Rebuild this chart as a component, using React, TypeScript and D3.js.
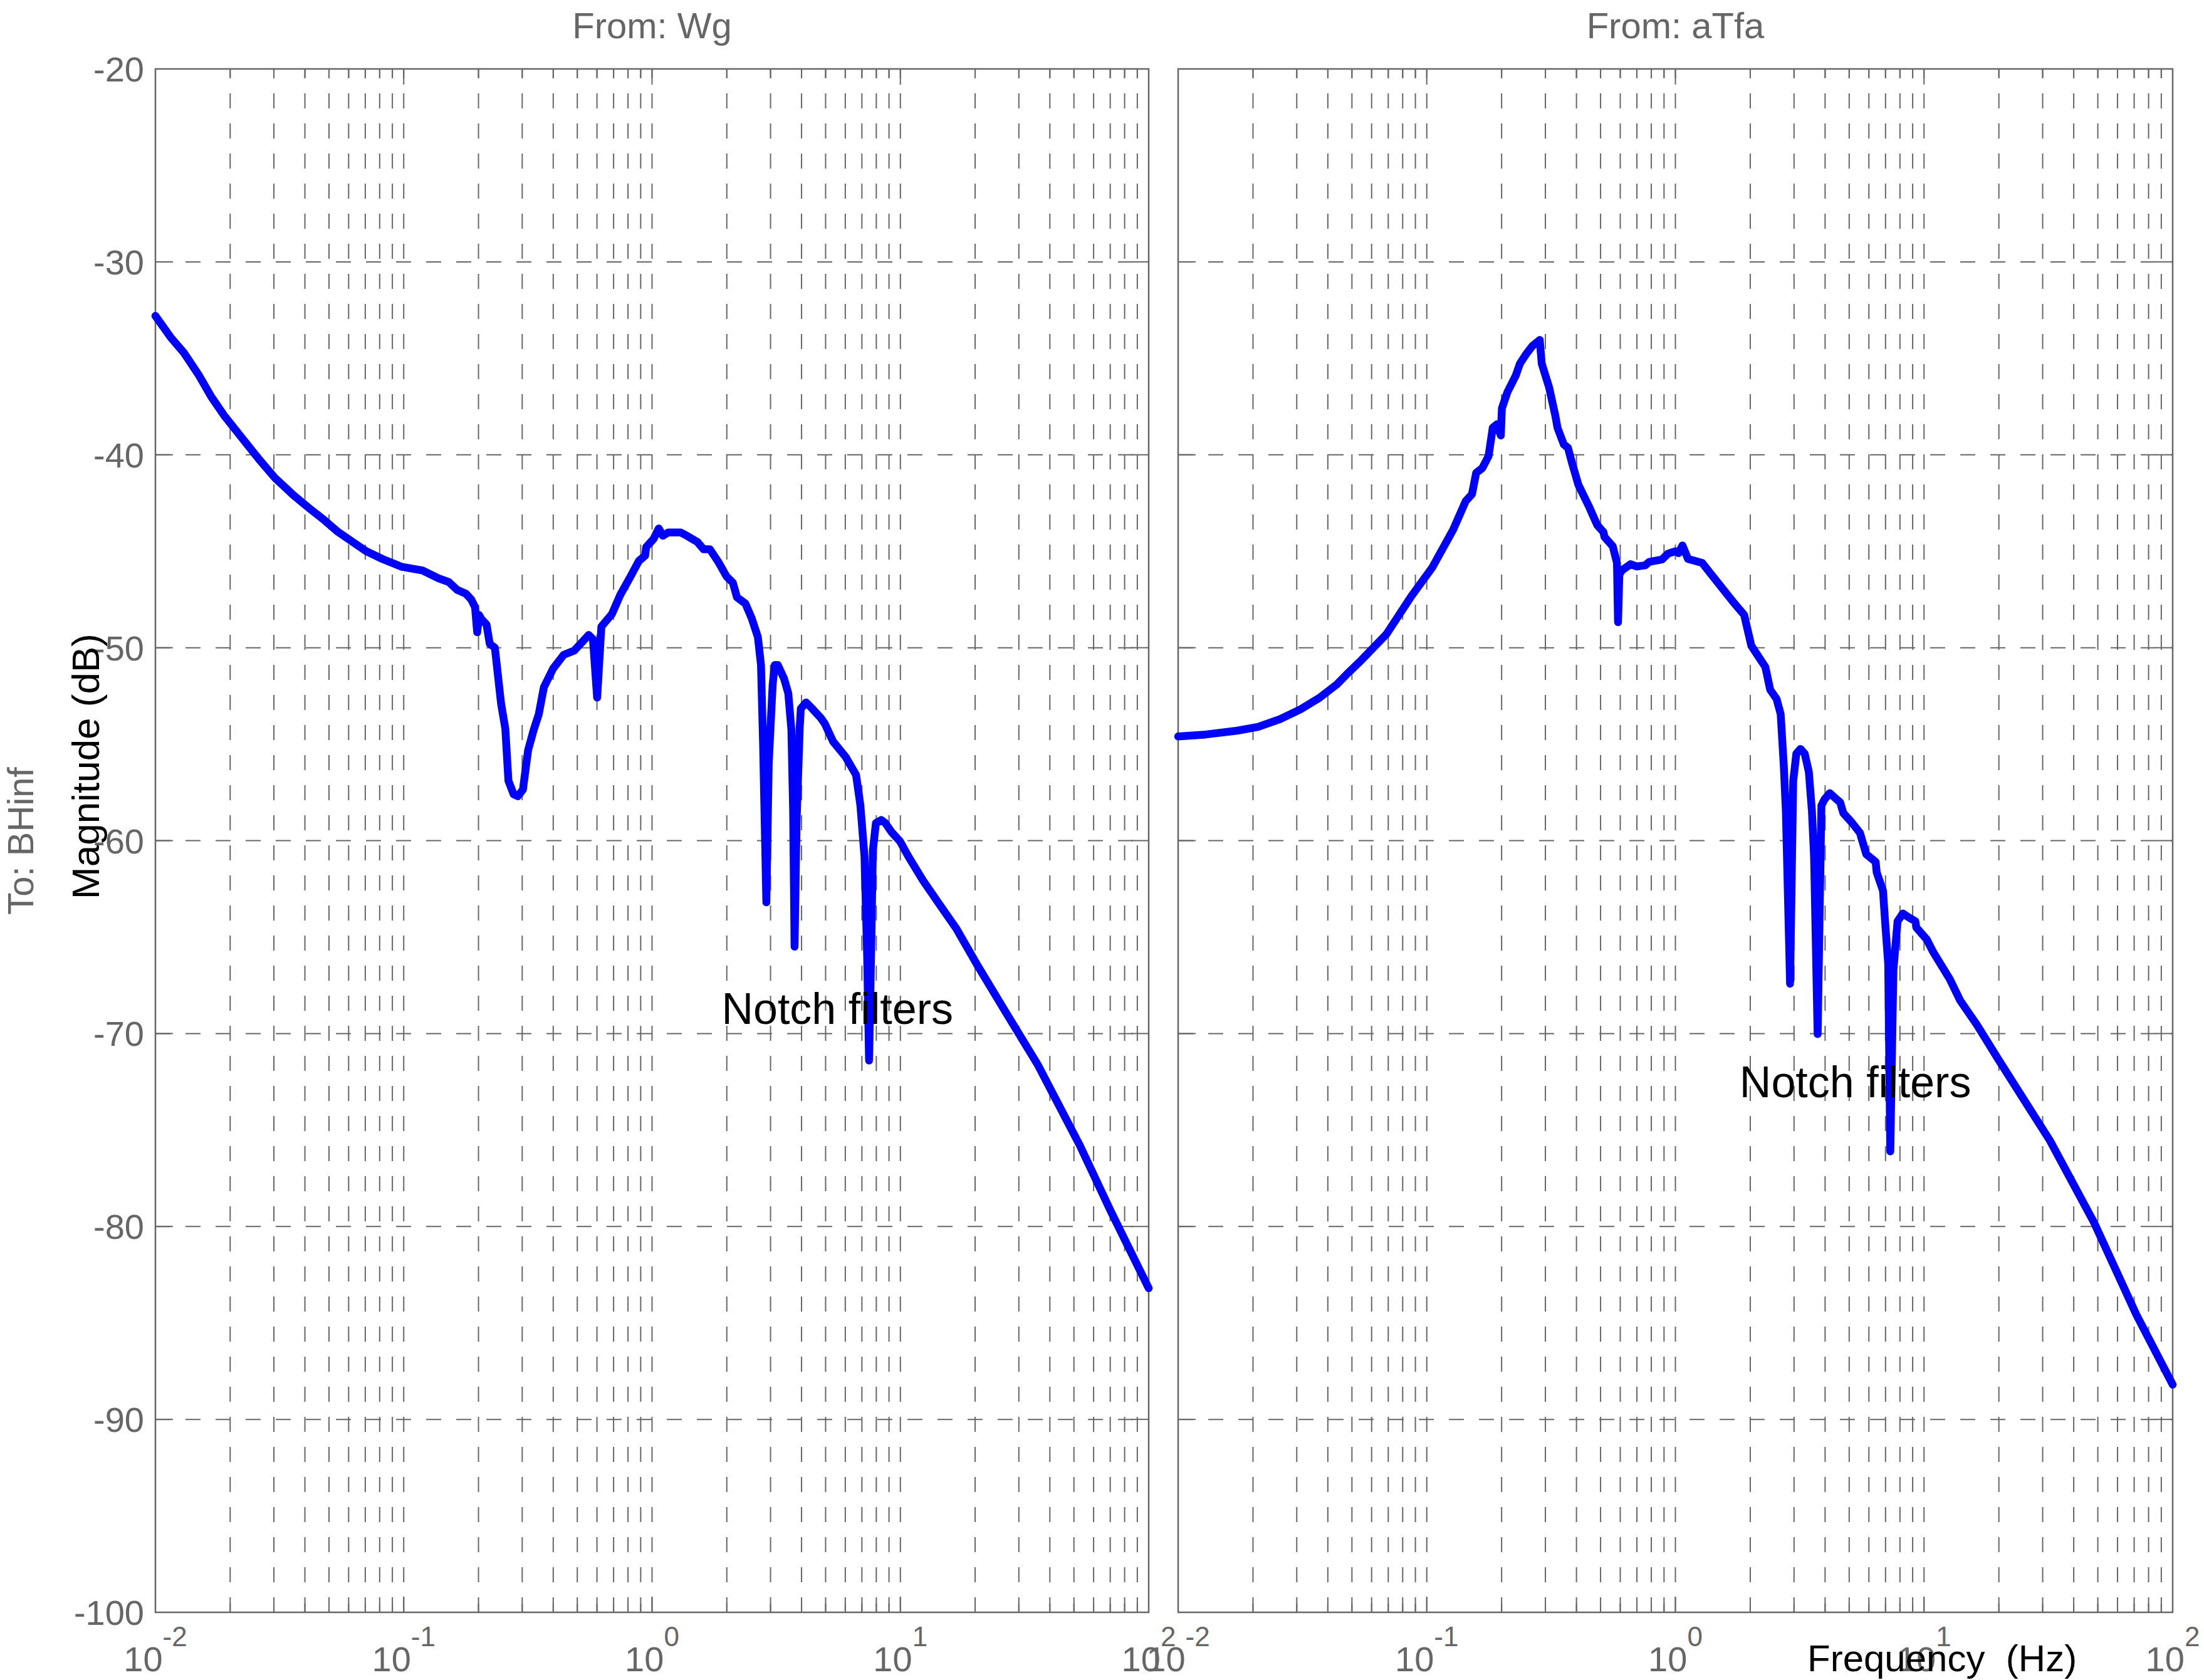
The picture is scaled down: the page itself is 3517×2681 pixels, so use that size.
import React from "react";
import * as d3 from "d3";

// magnitude response, From: Wg  (Hz, dB)
const wgFreq = [
  0.01, 0.0115, 0.013, 0.015, 0.0168, 0.019, 0.0219, 0.026, 0.0303, 0.036,
  0.0419, 0.048, 0.0544, 0.062, 0.0706, 0.082, 0.0977, 0.119, 0.138, 0.152,
  0.164, 0.178, 0.187, 0.1937, 0.1976, 0.201, 0.205, 0.2155, 0.222, 0.2328,
  0.2466, 0.2565, 0.264, 0.277, 0.288, 0.302, 0.317, 0.333, 0.3497, 0.3667,
  0.4, 0.4406, 0.4858, 0.556, 0.578, 0.601, 0.625, 0.689, 0.7436, 0.819,
  0.885, 0.938, 0.947, 1.014, 1.064, 1.106, 1.161, 1.304, 1.382, 1.522,
  1.613, 1.71, 1.848, 1.996, 2.115, 2.198, 2.376, 2.518, 2.668, 2.746,
  2.8, 2.886, 2.95, 3.06, 3.12, 3.21, 3.4, 3.537, 3.64, 3.7,
  3.749, 3.82, 3.934, 3.972, 4.17, 4.418, 4.775, 4.962, 5.363, 6.02,
  6.63, 6.9, 7.17, 7.35, 7.48, 7.62, 7.75, 7.97, 8.37, 8.7,
  9.22, 9.96, 10.77, 12.33, 14.11, 16.8, 20.39, 26.7, 35.7, 52.8,
  70.3, 100,
];
const wgMag = [
  -32.8, -33.9, -34.7, -35.9, -37.0, -38.0, -39.0, -40.2, -41.2, -42.1,
  -42.8, -43.4, -44.0, -44.5, -45.0, -45.4, -45.8, -46.0, -46.4, -46.6,
  -47.0, -47.2, -47.5, -47.9, -49.2, -48.3, -48.5, -48.8, -49.8, -50.0,
  -52.9, -54.2, -56.9, -57.6, -57.7, -57.35, -55.3, -54.3, -53.45, -52.05,
  -51.07, -50.37, -50.15, -49.34, -49.56, -52.59, -48.91, -48.26, -47.28, -46.31,
  -45.5, -45.23, -44.79, -44.36, -43.82, -44.2, -44.03, -44.03, -44.2, -44.52,
  -44.9, -44.9, -45.55, -46.31, -46.63, -47.39, -47.71, -48.47, -49.45, -50.9,
  -55.0, -63.2, -56.0, -51.9, -50.9, -50.9, -51.6, -52.37, -54.25, -58.5,
  -65.5, -59.0, -54.09, -53.16, -52.84, -53.16, -53.63, -53.94, -54.87, -55.66,
  -56.59, -58.16, -60.82, -66.0, -71.4, -66.0, -60.5, -59.09, -58.93, -59.09,
  -59.56, -60.03, -60.82, -62.06, -63.16, -64.56, -66.44, -68.94, -71.6, -75.8,
  -79.2, -83.2,
];

// magnitude response, From: aTfa  (Hz, dB)
const atfaFreq = [
  0.01, 0.0129, 0.0173, 0.021, 0.0257, 0.031, 0.037, 0.0435, 0.0486, 0.0545,
  0.0688, 0.0867, 0.105, 0.1276, 0.1433, 0.152, 0.158, 0.1673, 0.1772, 0.1842,
  0.1916, 0.1985, 0.2005, 0.211, 0.228, 0.2368, 0.251, 0.266, 0.2847, 0.29,
  0.3106, 0.329, 0.3355, 0.3556, 0.3696, 0.3842, 0.407, 0.4484, 0.4846, 0.5135,
  0.5184, 0.56, 0.582, 0.5878, 0.595, 0.611, 0.6602, 0.6998, 0.7556, 0.7856,
  0.8822, 0.935, 1.0, 1.03, 1.067, 1.124, 1.28, 1.497, 1.7, 1.89,
  2.02, 2.3, 2.406, 2.551, 2.651, 2.729, 2.782, 2.892, 2.977, 3.065,
  3.184, 3.311, 3.441, 3.542, 3.612, 3.733, 3.866, 3.979, 4.175, 4.381,
  4.599, 4.734, 5.115, 5.525, 5.853, 6.388, 6.451, 6.838, 6.97, 7.175,
  7.316, 7.53, 7.825, 8.215, 8.785, 9.226, 9.31, 10.26, 10.87, 12.69,
  13.98, 16.32, 19.79, 24.96, 32.1, 48.3, 71.3, 100,
];
const atfaMag = [
  -54.6, -54.5, -54.3, -54.1, -53.7, -53.2, -52.6, -51.9, -51.27, -50.65,
  -49.3, -47.33, -45.86, -43.89, -42.41, -42.04, -40.94, -40.69, -40.07, -38.6,
  -38.42, -39.0, -37.6, -36.75, -35.89, -35.28, -34.78, -34.36, -34.05, -35.28,
  -36.51, -37.98, -38.6, -39.46, -39.64, -40.44, -41.55, -42.66, -43.64, -44.01,
  -44.26, -44.75, -45.6, -48.68, -46.2, -45.98, -45.67, -45.79, -45.73, -45.55,
  -45.43, -45.12, -45.0, -45.1, -44.7, -45.4, -45.6, -46.7, -47.6, -48.3,
  -49.9, -51.0, -52.18, -52.65, -53.44, -56.13, -58.5, -67.42, -56.91, -55.49,
  -55.25, -55.49, -56.44, -58.5, -60.86, -70.03, -58.18, -57.86, -57.54, -57.78,
  -58.02, -58.57, -59.05, -59.6, -60.7, -61.1, -61.65, -62.6, -64.18, -66.39,
  -76.11, -66.71, -64.18, -63.78, -64.02, -64.18, -64.5, -65.13, -65.76, -67.18,
  -68.29, -69.55, -71.29, -73.34, -75.55, -79.8, -84.55, -88.2,
];

const magTicks = [-20, -30, -40, -50, -60, -70, -80, -90, -100];
const decadeTicks = [0.01, 0.1, 1, 10, 100];
const decadeExp = ["-2", "-1", "0", "1", "2"];
const panelTitles = ["From: Wg", "From: aTfa"];
const noteText = "Notch filters";
const noteAt = [
  { f: 1.905, db: -69.5 },
  { f: 1.811, db: -73.3 },
];

const W = 3517;
const H = 2681;
const TOP = 110;
const BOTTOM = 2573;
const GRAY = "#666666";
const FONT = "'Liberation Sans', Arial, Helvetica, sans-serif";

const panelBounds = [
  [248, 1833],
  [1880, 3467],
];

function Panel({ idx, freq, mag, showY }) {
  const [x0, x1] = panelBounds[idx];
  const x = d3.scaleLog().domain([0.01, 100]).range([x0, x1]);
  const y = d3.scaleLinear().domain([-100, -20]).range([BOTTOM, TOP]);
  const line = d3
    .line()
    .x((d) => x(d[0]))
    .y((d) => y(d[1]));
  const pts = freq.map((f, i) => [f, mag[i]]);
  const vTicks = x.ticks();
  const isMajor = (t) => Math.abs(Math.log10(t) - Math.round(Math.log10(t))) < 1e-6;

  return (
    <g>
      {/* grid */}
      {vTicks
        .filter((t) => t > 0.01 && t < 100)
        .map((t, i) => (
          <line
            key={"v" + i}
            x1={x(t)}
            x2={x(t)}
            y1={BOTTOM}
            y2={TOP}
            stroke={GRAY}
            strokeWidth={2}
            strokeDasharray="24 24"
          />
        ))}
      {magTicks
        .filter((t) => t > -100 && t < -20)
        .map((t) => (
          <line
            key={"h" + t}
            x1={x0}
            x2={x1}
            y1={y(t)}
            y2={y(t)}
            stroke={GRAY}
            strokeWidth={2}
            strokeDasharray="24 24"
          />
        ))}
      {/* ticks */}
      {vTicks.map((t, i) => {
        const len = isMajor(t) ? 25 : 14;
        return (
          <g key={"t" + i}>
            <line x1={x(t)} x2={x(t)} y1={TOP} y2={TOP + len} stroke={GRAY} strokeWidth={2} />
            <line x1={x(t)} x2={x(t)} y1={BOTTOM} y2={BOTTOM - len} stroke={GRAY} strokeWidth={2} />
          </g>
        );
      })}
      {magTicks.map((t) => (
        <g key={"yt" + t}>
          <line x1={x0} x2={x0 + 28} y1={y(t)} y2={y(t)} stroke={GRAY} strokeWidth={2} />
          <line x1={x1} x2={x1 - 28} y1={y(t)} y2={y(t)} stroke={GRAY} strokeWidth={2} />
        </g>
      ))}
      <rect x={x0} y={TOP} width={x1 - x0} height={BOTTOM - TOP} fill="none" stroke={GRAY} strokeWidth={2.5} />

      {/* response */}
      <path
        d={line(pts)}
        fill="none"
        stroke="#0000ff"
        strokeWidth={12.5}
        strokeLinejoin="round"
        strokeLinecap="round"
      />

      {/* labels */}
      <text x={(x0 + x1) / 2} y={61} textAnchor="middle" fontSize={58} fill={GRAY}>
        {panelTitles[idx]}
      </text>
      {showY &&
        magTicks.map((t) => (
          <text key={"yl" + t} x={x0 - 18} y={y(t) + 20} textAnchor="end" fontSize={56} fill={GRAY}>
            {t}
          </text>
        ))}
      {decadeTicks.map((t, i) => (
        <text key={"xl" + i} x={x(t)} y={2667} textAnchor="middle" fontSize={56} fill={GRAY}>
          10
          <tspan dy={-40} fontSize={44}>
            {decadeExp[i]}
          </tspan>
        </text>
      ))}
      <text x={x(noteAt[idx].f)} y={y(noteAt[idx].db)} fontSize={70} fill="#000">
        {noteText}
      </text>
    </g>
  );
}

export default function App() {
  return (
    <svg
      width={W}
      height={H}
      viewBox={`0 0 ${W} ${H}`}
      style={{ position: "absolute", left: 0, top: 0, background: "#fff" }}
      fontFamily={FONT}
    >
      <rect width={W} height={H} fill="#fff" />
      <Panel idx={0} freq={wgFreq} mag={wgMag} showY={true} />
      <Panel idx={1} freq={atfaFreq} mag={atfaMag} showY={false} />
      <text transform="translate(53,1342) rotate(-90)" textAnchor="middle" fontSize={58} fill={GRAY}>
        To: BHinf
      </text>
      <text transform="translate(158,1223) rotate(-90)" textAnchor="middle" fontSize={62} fill="#000">
        Magnitude (dB)
      </text>
      <text x={2884} y={2667} fontSize={60} fill="#000" style={{ whiteSpace: "pre" }}>
        {"Frequency  (Hz)"}
      </text>
    </svg>
  );
}
